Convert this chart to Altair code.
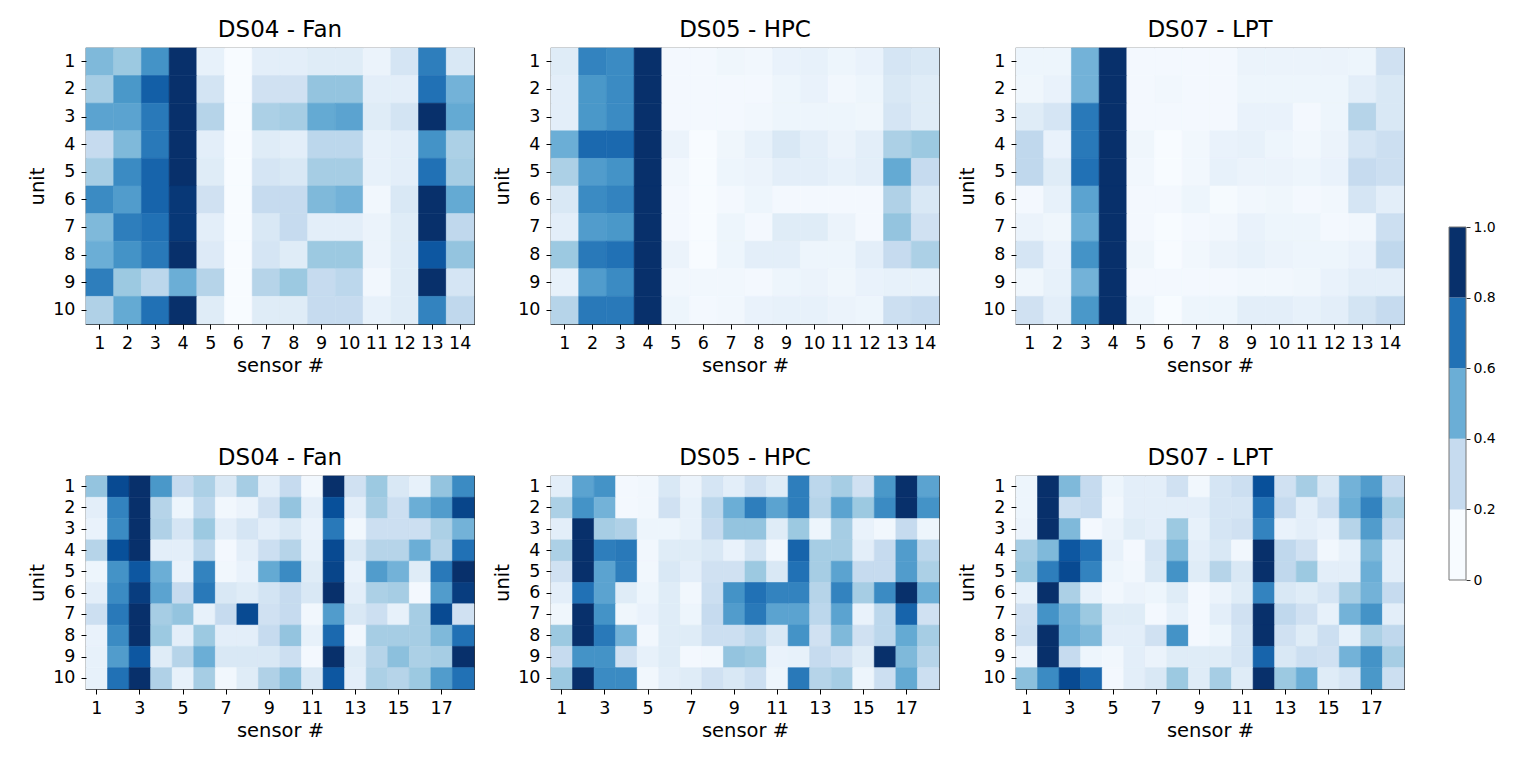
import altair as alt
import pandas as pd

units = list(range(1, 11))
sensors_top = list(range(1, 15))
sensors_bottom = list(range(1, 19))
xticks_top = list(range(1, 15))
xticks_bottom = [1, 3, 5, 7, 9, 11, 13, 15, 17]
titles = ["DS04 - Fan", "DS05 - HPC", "DS07 - LPT"]

fan_top = [
    [0.45, 0.38, 0.62, 1.0, 0.08, 0.0, 0.1, 0.1, 0.12, 0.12, 0.06, 0.17, 0.7, 0.15],
    [0.35, 0.6, 0.82, 1.0, 0.18, 0.0, 0.2, 0.2, 0.4, 0.4, 0.1, 0.1, 0.75, 0.48],
    [0.55, 0.55, 0.72, 1.0, 0.3, 0.0, 0.33, 0.35, 0.52, 0.55, 0.12, 0.18, 1.0, 0.52],
    [0.25, 0.45, 0.72, 1.0, 0.1, 0.0, 0.12, 0.1, 0.28, 0.28, 0.08, 0.1, 0.62, 0.33],
    [0.35, 0.65, 0.8, 1.0, 0.12, 0.0, 0.17, 0.15, 0.35, 0.35, 0.08, 0.1, 0.75, 0.35],
    [0.65, 0.58, 0.8, 0.97, 0.2, 0.0, 0.25, 0.25, 0.45, 0.48, 0.03, 0.15, 1.0, 0.52],
    [0.45, 0.7, 0.75, 0.97, 0.1, 0.0, 0.15, 0.25, 0.1, 0.1, 0.06, 0.12, 1.0, 0.27],
    [0.5, 0.62, 0.72, 1.0, 0.13, 0.0, 0.17, 0.12, 0.38, 0.38, 0.06, 0.12, 0.85, 0.4],
    [0.7, 0.38, 0.28, 0.5, 0.3, 0.0, 0.3, 0.38, 0.25, 0.28, 0.03, 0.12, 1.0, 0.17],
    [0.32, 0.52, 0.75, 1.0, 0.12, 0.0, 0.12, 0.12, 0.25, 0.25, 0.08, 0.12, 0.68, 0.27],
]
hpc_top = [
    [0.12, 0.68, 0.65, 1.0, 0.02, 0.02, 0.04, 0.03, 0.07, 0.08, 0.05, 0.07, 0.17, 0.15],
    [0.1, 0.6, 0.65, 1.0, 0.02, 0.02, 0.02, 0.02, 0.05, 0.07, 0.03, 0.05, 0.15, 0.12],
    [0.1, 0.6, 0.65, 1.0, 0.02, 0.02, 0.02, 0.03, 0.05, 0.05, 0.05, 0.04, 0.17, 0.12],
    [0.5, 0.78, 0.78, 1.0, 0.06, 0.0, 0.04, 0.08, 0.15, 0.1, 0.06, 0.1, 0.33, 0.38],
    [0.33, 0.58, 0.62, 1.0, 0.03, 0.0, 0.05, 0.06, 0.1, 0.1, 0.08, 0.1, 0.52, 0.25],
    [0.15, 0.65, 0.68, 1.0, 0.02, 0.0, 0.02, 0.05, 0.02, 0.02, 0.02, 0.02, 0.32, 0.15],
    [0.1, 0.58, 0.6, 1.0, 0.02, 0.0, 0.05, 0.02, 0.12, 0.12, 0.06, 0.02, 0.4, 0.2],
    [0.38, 0.72, 0.75, 1.0, 0.06, 0.0, 0.05, 0.1, 0.1, 0.05, 0.05, 0.1, 0.25, 0.33],
    [0.08, 0.58, 0.65, 1.0, 0.03, 0.03, 0.03, 0.02, 0.05, 0.06, 0.04, 0.07, 0.08, 0.08],
    [0.3, 0.72, 0.72, 1.0, 0.05, 0.02, 0.03, 0.07, 0.08, 0.08, 0.06, 0.05, 0.22, 0.25],
]
lpt_top = [
    [0.05, 0.05, 0.48, 1.0, 0.02, 0.02, 0.02, 0.02, 0.06, 0.06, 0.06, 0.06, 0.05, 0.2],
    [0.04, 0.07, 0.48, 1.0, 0.02, 0.03, 0.02, 0.02, 0.05, 0.05, 0.05, 0.05, 0.1, 0.15],
    [0.12, 0.17, 0.72, 1.0, 0.02, 0.02, 0.02, 0.02, 0.07, 0.07, 0.02, 0.05, 0.3, 0.15],
    [0.27, 0.07, 0.72, 1.0, 0.04, 0.0, 0.03, 0.07, 0.08, 0.05, 0.03, 0.06, 0.17, 0.22],
    [0.27, 0.12, 0.75, 1.0, 0.03, 0.0, 0.03, 0.08, 0.06, 0.06, 0.05, 0.07, 0.25, 0.22],
    [0.02, 0.08, 0.55, 1.0, 0.02, 0.02, 0.05, 0.01, 0.03, 0.04, 0.02, 0.03, 0.17, 0.1],
    [0.06, 0.04, 0.5, 1.0, 0.02, 0.0, 0.02, 0.03, 0.07, 0.05, 0.05, 0.02, 0.03, 0.22],
    [0.17, 0.07, 0.62, 1.0, 0.04, 0.0, 0.03, 0.06, 0.08, 0.06, 0.05, 0.05, 0.07, 0.27],
    [0.04, 0.08, 0.48, 1.0, 0.02, 0.02, 0.02, 0.02, 0.03, 0.03, 0.04, 0.07, 0.1, 0.1],
    [0.2, 0.1, 0.6, 1.0, 0.05, 0.0, 0.05, 0.05, 0.1, 0.1, 0.08, 0.1, 0.18, 0.25],
]
fan_bottom = [
    [0.4, 0.9, 1.0, 0.6, 0.25, 0.33, 0.15, 0.35, 0.1, 0.25, 0.03, 1.0, 0.2, 0.38, 0.15, 0.08, 0.4, 0.65],
    [0.1, 0.68, 1.0, 0.3, 0.05, 0.28, 0.03, 0.06, 0.2, 0.4, 0.1, 0.88, 0.1, 0.35, 0.22, 0.5, 0.58, 0.92],
    [0.07, 0.65, 1.0, 0.32, 0.17, 0.38, 0.1, 0.17, 0.1, 0.15, 0.07, 0.72, 0.03, 0.22, 0.22, 0.22, 0.33, 0.48],
    [0.3, 0.88, 1.0, 0.1, 0.1, 0.28, 0.02, 0.1, 0.22, 0.3, 0.08, 0.9, 0.15, 0.3, 0.3, 0.5, 0.3, 0.75],
    [0.05, 0.62, 0.85, 0.5, 0.07, 0.68, 0.03, 0.07, 0.52, 0.65, 0.12, 0.92, 0.07, 0.58, 0.48, 0.12, 0.72, 1.0],
    [0.1, 0.65, 0.95, 0.55, 0.25, 0.72, 0.15, 0.12, 0.18, 0.25, 0.15, 1.0, 0.1, 0.33, 0.35, 0.02, 0.58, 0.95],
    [0.22, 0.72, 1.0, 0.35, 0.4, 0.08, 0.25, 0.9, 0.2, 0.25, 0.03, 0.58, 0.15, 0.22, 0.08, 0.35, 0.9, 0.2],
    [0.07, 0.65, 1.0, 0.38, 0.1, 0.38, 0.1, 0.1, 0.25, 0.4, 0.08, 0.78, 0.03, 0.35, 0.35, 0.35, 0.45, 0.75],
    [0.08, 0.58, 0.85, 0.12, 0.3, 0.5, 0.15, 0.15, 0.15, 0.22, 0.02, 1.0, 0.12, 0.3, 0.42, 0.33, 0.35, 1.0],
    [0.08, 0.75, 1.0, 0.32, 0.08, 0.35, 0.03, 0.12, 0.32, 0.42, 0.15, 0.85, 0.1, 0.33, 0.3, 0.38, 0.58, 0.75],
]
hpc_bottom = [
    [0.1, 0.55, 0.62, 0.02, 0.03, 0.15, 0.06, 0.17, 0.1, 0.2, 0.12, 0.7, 0.28, 0.35, 0.2, 0.6, 1.0, 0.55],
    [0.33, 0.62, 0.48, 0.02, 0.03, 0.2, 0.08, 0.28, 0.5, 0.7, 0.55, 0.7, 0.3, 0.55, 0.38, 0.65, 1.0, 0.62],
    [0.1, 1.0, 0.35, 0.32, 0.05, 0.05, 0.08, 0.25, 0.4, 0.4, 0.12, 0.38, 0.05, 0.35, 0.07, 0.03, 0.25, 0.05],
    [0.33, 1.0, 0.7, 0.72, 0.03, 0.12, 0.12, 0.15, 0.07, 0.18, 0.03, 0.8, 0.35, 0.35, 0.1, 0.25, 0.58, 0.28],
    [0.2, 1.0, 0.55, 0.7, 0.03, 0.15, 0.1, 0.2, 0.2, 0.38, 0.15, 0.75, 0.35, 0.55, 0.25, 0.25, 0.58, 0.33],
    [0.1, 0.75, 0.55, 0.12, 0.05, 0.12, 0.03, 0.22, 0.62, 0.75, 0.68, 0.68, 0.3, 0.68, 0.35, 0.65, 1.0, 0.5],
    [0.04, 1.0, 0.62, 0.04, 0.07, 0.12, 0.05, 0.25, 0.58, 0.72, 0.55, 0.55, 0.28, 0.55, 0.07, 0.28, 0.8, 0.2],
    [0.38, 1.0, 0.72, 0.48, 0.03, 0.12, 0.12, 0.22, 0.22, 0.28, 0.15, 0.62, 0.2, 0.45, 0.2, 0.28, 0.52, 0.35],
    [0.25, 0.62, 0.62, 0.2, 0.08, 0.12, 0.02, 0.03, 0.4, 0.38, 0.07, 0.08, 0.25, 0.2, 0.12, 1.0, 0.45, 0.3],
    [0.38, 1.0, 0.65, 0.65, 0.03, 0.1, 0.12, 0.2, 0.15, 0.22, 0.05, 0.72, 0.3, 0.35, 0.05, 0.22, 0.52, 0.22],
]
lpt_bottom = [
    [0.05, 1.0, 0.45, 0.25, 0.05, 0.1, 0.1, 0.2, 0.03, 0.17, 0.22, 0.88, 0.2, 0.35, 0.15, 0.48, 0.58, 0.25],
    [0.05, 1.0, 0.22, 0.25, 0.03, 0.1, 0.1, 0.1, 0.1, 0.17, 0.17, 0.75, 0.25, 0.1, 0.22, 0.5, 0.68, 0.35],
    [0.06, 1.0, 0.45, 0.02, 0.06, 0.12, 0.1, 0.38, 0.08, 0.17, 0.2, 0.68, 0.07, 0.1, 0.07, 0.3, 0.58, 0.27],
    [0.35, 0.45, 0.85, 0.75, 0.08, 0.02, 0.17, 0.45, 0.1, 0.15, 0.03, 1.0, 0.27, 0.2, 0.03, 0.08, 0.45, 0.1],
    [0.38, 0.7, 0.9, 0.68, 0.05, 0.03, 0.15, 0.62, 0.12, 0.3, 0.15, 1.0, 0.27, 0.38, 0.1, 0.1, 0.5, 0.1],
    [0.08, 1.0, 0.33, 0.08, 0.03, 0.06, 0.05, 0.12, 0.02, 0.06, 0.12, 0.68, 0.15, 0.12, 0.17, 0.35, 0.48, 0.25],
    [0.2, 0.62, 0.48, 0.38, 0.12, 0.12, 0.02, 0.08, 0.02, 0.1, 0.2, 1.0, 0.27, 0.2, 0.08, 0.48, 0.62, 0.1],
    [0.22, 1.0, 0.5, 0.45, 0.1, 0.1, 0.2, 0.62, 0.02, 0.05, 0.17, 1.0, 0.2, 0.12, 0.22, 0.08, 0.33, 0.27],
    [0.06, 1.0, 0.25, 0.05, 0.03, 0.1, 0.06, 0.12, 0.12, 0.12, 0.17, 0.8, 0.15, 0.22, 0.2, 0.48, 0.62, 0.35],
    [0.42, 0.65, 0.9, 0.78, 0.02, 0.1, 0.15, 0.38, 0.12, 0.35, 0.12, 1.0, 0.38, 0.5, 0.12, 0.17, 0.6, 0.22],
]

cbar_lo = [0.0, 0.2, 0.4, 0.6, 0.8]
cbar_hi = [0.2, 0.4, 0.6, 0.8, 1.0]
cbar_colors = ["#f7fbff", "#c6dbef", "#6baed6", "#2171b5", "#08306b"]
cbar_ticks = [0.0, 0.2, 0.4, 0.6, 0.8, 1.0]

BLUES = ["#f7fbff", "#deebf7", "#c6dbef", "#9ecae1", "#6baed6",
         "#4292c6", "#2171b5", "#08519c", "#08306b"]
FONT = "DejaVu Sans"


def heat(values, title, sensors, xticks, w, h):
    rows = []
    for ui, row in enumerate(values):
        for si, v in enumerate(row):
            rows.append({"unit": units[ui], "sensor": sensors[si], "value": v})
    df = pd.DataFrame(rows)
    cscale = alt.Scale(domain=[0, 1], range=BLUES, interpolate="rgb")
    return alt.Chart(
        df,
        title=alt.Title(title, fontSize=23, font=FONT, fontWeight="normal", offset=6, color="black"),
    ).mark_rect(strokeWidth=0.6).encode(
        x=alt.X("sensor:O", title="sensor #",
                scale=alt.Scale(paddingInner=0, paddingOuter=0),
                axis=alt.Axis(values=xticks, labelAngle=0, labelPadding=5)),
        y=alt.Y("unit:O", title="unit",
                scale=alt.Scale(paddingInner=0, paddingOuter=0),
                axis=alt.Axis(labelPadding=6)),
        color=alt.Color("value:Q", scale=cscale, legend=None),
        stroke=alt.Stroke("value:Q", scale=cscale, legend=None),
    ).properties(width=w, height=h,
                 view=alt.ViewBackground(stroke="#222", strokeWidth=1.2))


top_row = alt.hconcat(
    heat(fan_top, titles[0], sensors_top, xticks_top, 388, 276),
    heat(hpc_top, titles[1], sensors_top, xticks_top, 388, 276),
    heat(lpt_top, titles[2], sensors_top, xticks_top, 388, 276),
    spacing=17,
)
bottom_row = alt.hconcat(
    heat(fan_bottom, titles[0], sensors_bottom, xticks_bottom, 388, 213),
    heat(hpc_bottom, titles[1], sensors_bottom, xticks_bottom, 388, 213),
    heat(lpt_bottom, titles[2], sensors_bottom, xticks_bottom, 388, 213),
    spacing=17,
)
grid = alt.vconcat(top_row, bottom_row, spacing=70)

cb_df = pd.DataFrame({"lo": cbar_lo, "hi": cbar_hi, "color": cbar_colors})
frame_df = pd.DataFrame({"lo": [0.0], "hi": [1.0]})
CB_H = 650
cb_top_pix = 48.0
hi_dom = (580 - cb_top_pix) / 353.0
lo_dom = hi_dom - CB_H / 353.0
yscale = alt.Scale(domain=[lo_dom, hi_dom], nice=False, zero=False)
yaxis = alt.Axis(orient="right", values=cbar_ticks, domain=False, grid=False, title=None,
                 labelExpr="datum.value == 0 ? '0' : format(datum.value, '.1f')",
                 labelFontSize=14, tickSize=4, labelPadding=3, tickColor="#333")

bands = alt.Chart(cb_df).mark_rect().encode(
    x=alt.value(0), x2=alt.value(17),
    y=alt.Y("lo:Q", scale=yscale, axis=yaxis),
    y2="hi:Q",
    color=alt.Color("color:N", scale=None, legend=None),
)
frame = alt.Chart(frame_df).mark_rect(fillOpacity=0, stroke="#777", strokeWidth=1).encode(
    x=alt.value(0), x2=alt.value(17),
    y=alt.Y("lo:Q", scale=yscale, axis=yaxis),
    y2="hi:Q",
)
cbar = alt.layer(bands, frame).properties(width=17, height=CB_H,
                                          view=alt.ViewBackground(stroke=None))

chart = alt.hconcat(grid, cbar, spacing=43).properties(
    padding={"left": 27, "top": 18, "right": 5, "bottom": 5}
).configure_view(stroke=None).configure_axis(
    labelFont=FONT, titleFont=FONT, labelFontSize=17.5, titleFontSize=19.5,
    titleFontWeight="normal", labelColor="black", titleColor="black",
    tickColor="black", tickSize=5, domain=False, grid=False,
    titlePadding=5,
)

chart.save("out.html", embed_options={"renderer": "svg", "actions": False})
